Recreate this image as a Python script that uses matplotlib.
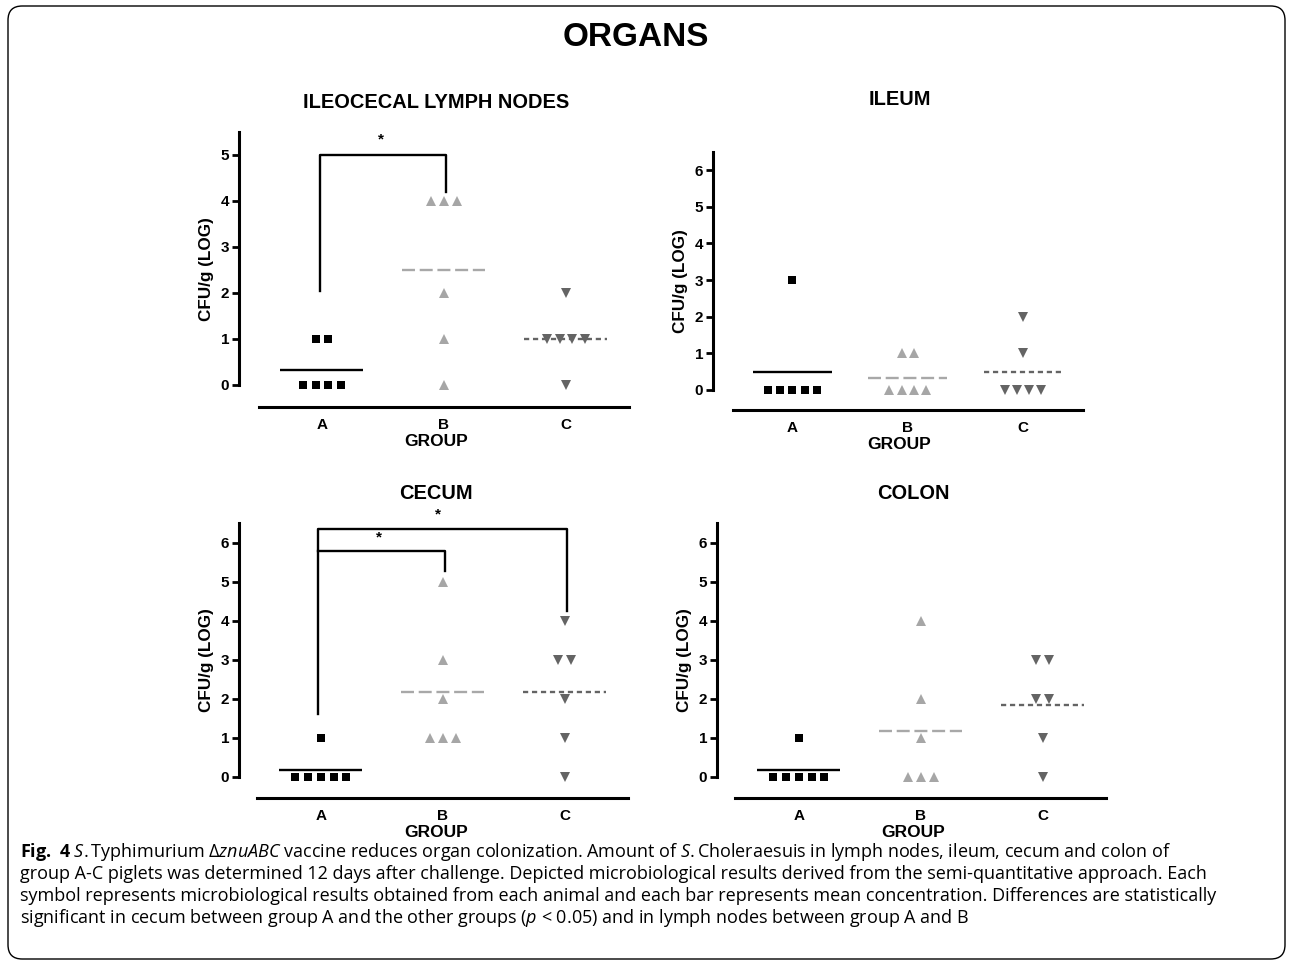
import numpy as np
import matplotlib
matplotlib.use('Agg')
import matplotlib.pyplot as plt
from matplotlib.patches import FancyBboxPatch

plt.rcParams['font.family'] = ['Liberation Sans', 'DejaVu Sans']
plt.rcParams['mathtext.fontset'] = 'custom'
plt.rcParams['mathtext.rm'] = 'Open Sans'
plt.rcParams['mathtext.it'] = 'Open Sans:italic'
plt.rcParams['mathtext.bf'] = 'Open Sans:bold'

W, H = 1292, 964

groups = ['A', 'B', 'C']

# CFU/g (log) per animal
iln_a = [1, 1, 0, 0, 0, 0]
iln_b = [4, 4, 4, 2, 1, 0]
iln_c = [2, 1, 1, 1, 1, 0]
ileum_a = [3, 0, 0, 0, 0, 0]
ileum_b = [1, 1, 0, 0, 0, 0]
ileum_c = [2, 1, 0, 0, 0, 0]
cecum_a = [1, 0, 0, 0, 0, 0]
cecum_b = [5, 3, 2, 1, 1, 1]
cecum_c = [4, 3, 3, 2, 1, 0]
colon_a = [1, 0, 0, 0, 0, 0]
colon_b = [4, 2, 1, 0, 0, 0]
colon_c = [3, 3, 2, 2, 1, 0]

# significance brackets: (from group, to group, bar height, left drop end, right drop end)
iln_sig = [(0, 1, 5.0, 2.05, 4.2)]
cecum_sig = [(0, 2, 6.35, 1.6, 4.25), (0, 1, 5.77, None, 5.28)]

caption = [
    r"$\mathbf{Fig.\ 4}$ $\mathit{S.}$Typhimurium $\Delta\mathit{znuABC}$ vaccine reduces organ colonization. "
    r"Amount of $\mathit{S.}$Choleraesuis in lymph nodes, ileum, cecum and colon of",
    "group A-C piglets was determined 12 days after challenge. Depicted microbiological results "
    "derived from the semi-quantitative approach. Each",
    "symbol represents microbiological results obtained from each animal and each bar represents "
    "mean concentration. Differences are statistically",
    r"significant in cecum between group A and the other groups ($\mathit{p}$ < 0.05) and in lymph "
    "nodes between group A and B",
]

styles = [
    dict(marker='s', mcolor='black', lcolor='black', ms=5.2, dashes=None),
    dict(marker='^', mcolor='#a6a6a6', lcolor='#a8a8a8', ms=6.5, dashes=(5.5, 2.0)),
    dict(marker='v', mcolor='#646464', lcolor='#646464', ms=6.5, dashes=(2.2, 1.6)),
]

fig = plt.figure(figsize=(W / 100, H / 100), dpi=100)


def panel(rect, title, data, xlim, ylim, yticks, title_pad, sig=()):
    l, t, r, b = rect
    ax = fig.add_axes([l / W, 1 - b / H, (r - l) / W, (b - t) / H])
    for i, (vals, st) in enumerate(zip(data, styles)):
        vals = np.array(vals)
        for v in np.unique(vals):
            n = (vals == v).sum()
            xs = i + (np.arange(n) - (n - 1) / 2) * 0.105
            ax.plot(xs, [v] * n, ls='none', marker=st['marker'], ms=st['ms'], mew=0,
                    color=st['mcolor'], zorder=2)
        m = vals.mean()
        line, = ax.plot([i - 0.34, i + 0.34], [m, m], color=st['lcolor'], lw=1.7, zorder=3,
                        solid_capstyle='butt', dash_capstyle='butt')
        if st['dashes']:
            line.set_dashes(st['dashes'])
    for g0, g1, hgt, d0, d1 in sig:
        x0, x1 = g0 - 0.02, g1 + 0.02
        ys0 = d0 if d0 is not None else hgt
        ax.plot([x0, x0, x1, x1], [ys0, hgt, hgt, d1], color='black', lw=1.7,
                clip_on=False, zorder=4)
        ax.text((x0 + x1) / 2 - 0.02 * (g1 - g0), hgt + 0.18, '*', ha='center', va='bottom',
                fontsize=11, fontweight='bold', clip_on=False)
    ax.set_xlim(*xlim)
    ax.set_ylim(*ylim)
    ax.set_xticks(range(3))
    ax.set_xticklabels(groups)
    ax.set_yticks(yticks)
    for s in ('top', 'right'):
        ax.spines[s].set_visible(False)
    ax.spines['left'].set_linewidth(2.2)
    ax.spines['bottom'].set_linewidth(2.2)
    ax.spines['left'].set_bounds(0, ylim[1])
    ax.spines['bottom'].set_bounds(-0.52, 2.52)
    ax.tick_params(axis='y', width=2, length=5, labelsize=11, pad=2)
    ax.tick_params(axis='x', length=0, labelsize=11, pad=8)
    for lab in ax.get_xticklabels() + ax.get_yticklabels():
        lab.set_fontweight('bold')
    ax.set_xlabel('GROUP', fontsize=12.5, fontweight='bold', labelpad=1.5)
    ax.set_ylabel('CFU/g (LOG)', fontsize=12.3, fontweight='bold', labelpad=5)
    ax.set_title(title, fontsize=14.4, fontweight='bold', pad=title_pad)
    ax.patch.set_alpha(0)
    return ax


panel((239, 132, 633, 407), 'ILEOCECAL LYMPH NODES', [iln_a, iln_b, iln_c],
      (-0.68, 2.55), (-0.48, 5.5), range(6), 17, iln_sig)
panel((713, 152, 1086, 410), 'ILEUM', [ileum_a, ileum_b, ileum_c],
      (-0.69, 2.55), (-0.55, 6.5), range(7), 33.5)
panel((239, 523, 633, 798), 'CECUM', [cecum_a, cecum_b, cecum_c],
      (-0.67, 2.56), (-0.55, 6.5), range(7), 17, cecum_sig)
panel((717, 523, 1110, 798), 'COLON', [colon_a, colon_b, colon_c],
      (-0.67, 2.55), (-0.55, 6.5), range(7), 17)

fig.text(636 / W, 1 - 38 / H, 'ORGANS', ha='center', va='center', fontsize=24, fontweight='bold')

for k, line in enumerate(caption):
    fig.text(20 / W, 1 - (857 + 22 * k) / H, line, ha='left', va='baseline', fontsize=13.0,
             family='Open Sans')

frame = FancyBboxPatch((8 / W, 5 / H), 1277 / W, 953 / H,
                       boxstyle='round,pad=0,rounding_size=0.011', mutation_aspect=W / H,
                       transform=fig.transFigure, fill=False, ec='black', lw=1.0)
fig.add_artist(frame)

fig.savefig('out.png', dpi=100)
